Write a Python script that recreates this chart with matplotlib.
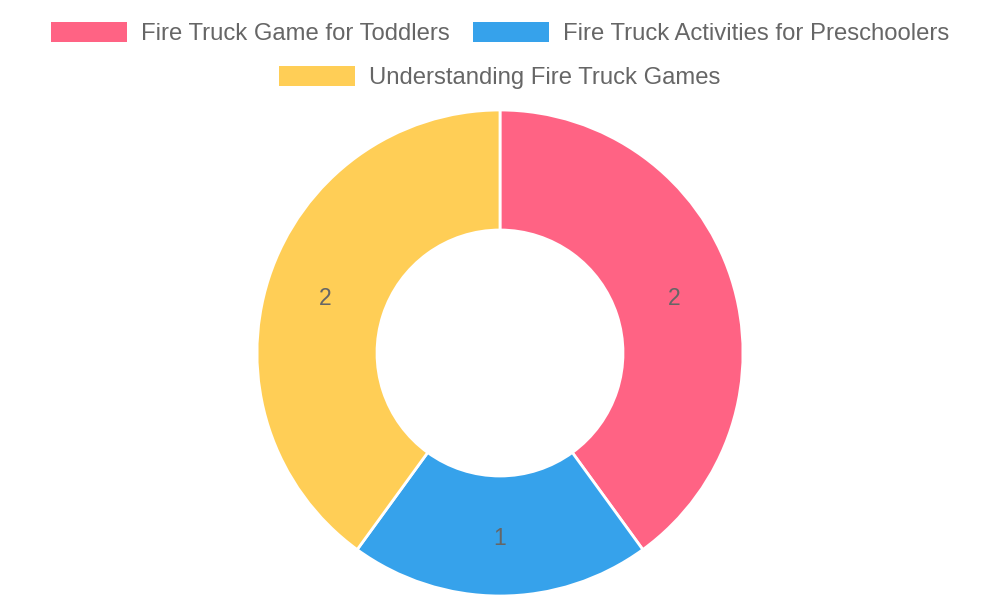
import matplotlib.pyplot as plt
from matplotlib.patches import Rectangle

labels = ["Fire Truck Game for Toddlers", "Fire Truck Activities for Preschoolers",
          "Understanding Fire Truck Games"]
values = [2, 1, 2]
colors = ["#FF6384", "#36A2EB", "#FFCE56"]

plt.rcParams['font.family'] = ['Liberation Sans', 'DejaVu Sans']

fig = plt.figure(figsize=(10, 6), dpi=100)
ax = fig.add_axes([0, 0, 1, 1])

total = sum(values)
wedges, texts, autotexts = ax.pie(
    values, colors=colors, startangle=90, counterclock=False,
    center=(500, 247), radius=243,
    wedgeprops=dict(width=120, edgecolor='white', linewidth=2),
    autopct=lambda p: f"{round(p * total / 100):d}", pctdistance=0.755,
    textprops=dict(color='#666666', fontsize=16.5))
for t in autotexts:
    x, y = t.get_position()
    t.set_position((x, y - 2))

ax.set_xlim(0, 1000)
ax.set_ylim(0, 600)
ax.set_aspect('equal')
ax.axis('off')

# legend, laid out in pixel coords like the original
legend_pos = [(51, 32), (473, 32), (279, 76)]
for (x, y), lab, col in zip(legend_pos, labels, colors):
    ax.add_patch(Rectangle((x, 600 - y - 10), 76, 20, facecolor=col, edgecolor='none'))
    ax.text(x + 90, 600 - y - 2, lab, fontsize=17.2, color='#666666', va='center', ha='left')

fig.savefig("out.png", dpi=100)
